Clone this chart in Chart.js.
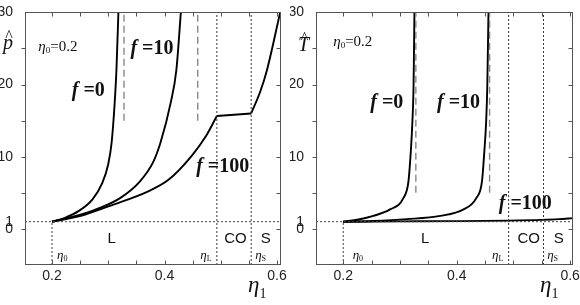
<!DOCTYPE html>
<html>
<head>
<meta charset="utf-8">
<script src="https://cdn.jsdelivr.net/npm/chart.js@4.4.0/dist/chart.umd.min.js"></script>
<style>
  html, body { margin: 0; padding: 0; background: #fff; }
  #wrap { position: relative; width: 580px; height: 305px; }
  .panel { position: absolute; top: 0; width: 290px; height: 305px; }
  #left { left: 0; }
  #right { left: 290px; }
</style>
</head>
<body>
<div id="wrap">
  <div class="panel" id="left"><canvas id="pChart" width="290" height="305"></canvas></div>
  <div class="panel" id="right"><canvas id="tChart" width="290" height="305"></canvas></div>
</div>
<script>
// axis ticks
const xTicks = [0.2, 0.25, 0.3, 0.35, 0.4, 0.45, 0.5, 0.55, 0.6];
const xLabelled = [0.2, 0.4, 0.6];
const yTicks = [-5, 0, 1, 5, 10, 15, 20, 25, 30];
const yLabelled = [0, 1, 10, 20, 30];

// left panel: reduced pressure p-hat vs eta1
const etaP0 = [0.2, 0.223, 0.247, 0.272, 0.289, 0.3, 0.306, 0.311, 0.3145, 0.318];
const pF0 = [1, 1.54, 2.46, 4.1, 6.3, 9.0, 12, 17, 22, 30];
const etaP10 = [0.2, 0.229, 0.27, 0.321, 0.356, 0.38, 0.393, 0.411, 0.421, 0.429];
const pF10 = [1, 1.54, 2.46, 4.27, 6.55, 9.28, 12, 17.5, 22, 30];
const etaP100L = [0.2, 0.22, 0.259, 0.309, 0.37, 0.407, 0.449, 0.474, 0.493];
const pF100L = [1, 1.3, 2.0, 3.37, 5.18, 6.8, 10.2, 12.9, 15.65];
const etaP100CO = [0.493, 0.554];
const pF100CO = [15.65, 16.0];
const etaP100S = [0.554, 0.57, 0.582, 0.6055];
const pF100S = [16.0, 19, 22, 30];
const pAsym = [0.328, 0.459];
const pAsymFrom = 15;
const pBounds = [0.2, 0.493, 0.554];

// right panel: reduced temperature T-hat vs eta1
const etaT0 = [0.2, 0.227, 0.253, 0.2825, 0.306, 0.3149, 0.319, 0.322, 0.324, 0.3255];
const tF0 = [1, 1.3, 1.8, 2.7, 4.27, 6.55, 10.6, 15, 20, 30];
const etaT10 = [0.2, 0.253, 0.312, 0.371, 0.412, 0.4345, 0.4445, 0.4486, 0.452, 0.454, 0.456];
const tF10 = [1, 1.1, 1.35, 1.8, 2.7, 4.27, 6.55, 10.6, 15, 20, 30];
const etaT100 = [0.2, 0.3, 0.4, 0.49, 0.55, 0.58, 0.605];
const tF100 = [1, 1.04, 1.08, 1.15, 1.25, 1.35, 1.5];
const tAsym = [0.328, 0.458];
const tAsymFrom = 5;
const tBounds = [0.2, 0.4915, 0.553];

const Y_MIN = -5, Y_MAX = 30;
const SANS = '"Liberation Sans", Arial, sans-serif';
const SERIF = '"Liberation Serif", "Times New Roman", serif';

const pts = (xs, ys) => xs.map((x, i) => ({ x, y: ys[i] }));

function curve(xs, ys) {
  return {
    data: pts(xs, ys), showLine: true, borderColor: '#000', borderWidth: 1.9,
    pointRadius: 0, fill: false, cubicInterpolationMode: 'monotone',
  };
}

function guide(data, color, dash, width) {
  return {
    data, showLine: true, borderColor: color, borderWidth: width || 1,
    borderDash: dash, pointRadius: 0, fill: false, tension: 0,
  };
}

function guides(bounds, asym, asymFrom, xMin, xMax) {
  const out = [];
  out.push(guide([{ x: xMin, y: 1 }, { x: xMax, y: 1 }], '#444', [2, 2]));
  out.push(guide([{ x: bounds[0], y: Y_MIN }, { x: bounds[0], y: 1 }], '#444', [2, 2]));
  bounds.slice(1).forEach((b) => out.push(guide([{ x: b, y: Y_MIN }, { x: b, y: Y_MAX }], '#333', [2, 2])));
  asym.forEach((a) => out.push(guide([{ x: a, y: asymFrom }, { x: a, y: Y_MAX }], '#888', [7, 4], 1.4)));
  return out;
}

const near = (list, v) => list.some((l) => Math.abs(l - v) < 1e-6);

function drawRich(ctx, x, y, parts, align) {
  let w = 0;
  parts.forEach((p) => { ctx.font = p.font; w += ctx.measureText(p.t).width + (p.gap || 0); });
  let cx = align === 'center' ? x - w / 2 : x;
  parts.forEach((p) => {
    ctx.font = p.font;
    ctx.fillText(p.t, cx, y + (p.dy || 0));
    cx += ctx.measureText(p.t).width + (p.gap || 0);
  });
}

const fLabel = (n) => [
  { t: 'f', font: `italic bold 20px ${SERIF}`, gap: 5 },
  { t: '=' + n, font: `bold 20px ${SERIF}` },
];
const etaSub = (sub, size) => [
  { t: 'η', font: `italic ${size}px ${SERIF}` },
  { t: sub, font: `${Math.round(size * 0.62)}px ${SERIF}`, dy: 2 },
];

const decor = {
  id: 'decor',
  afterDraw(chart, args, opts) {
    const { ctx, chartArea: a, scales: { x, y } } = chart;
    const L = Math.round(a.left) + 0.5, R = Math.round(a.right) - 0.5;
    const T = Math.round(a.top) + 0.5, B = Math.round(a.bottom) - 0.5;
    ctx.save();
    ctx.strokeStyle = '#555';
    ctx.lineWidth = 1;
    ctx.strokeRect(L, T, R - L, B - T);
    ctx.beginPath();
    xTicks.forEach((v) => {
      const px = Math.round(x.getPixelForValue(v)) + 0.5;
      ctx.moveTo(px, B); ctx.lineTo(px, B - 4);
      ctx.moveTo(px, T); ctx.lineTo(px, T + 4);
    });
    yTicks.filter((v) => v % 5 === 0 && v > Y_MIN && v < Y_MAX).forEach((v) => {
      const py = Math.round(y.getPixelForValue(v)) + 0.5;
      ctx.moveTo(L, py); ctx.lineTo(L - 4, py);
      ctx.moveTo(R, py); ctx.lineTo(R - 4, py);
    });
    ctx.stroke();

    ctx.fillStyle = '#111';
    ctx.textBaseline = 'alphabetic';
    opts.notes.forEach((n) => {
      drawRich(ctx, x.getPixelForValue(n.x), y.getPixelForValue(n.y), n.parts, n.align);
    });

    // y title with hat
    ctx.textAlign = 'left';
    const cx = a.left + opts.yTitleDx;
    ctx.font = `italic 20px ${SERIF}`;
    const tw = ctx.measureText(opts.yTitle).width;
    ctx.fillText(opts.yTitle, cx - tw / 2, opts.yTitleBase);
    ctx.font = `16px ${SERIF}`;
    const hw = ctx.measureText('^').width;
    ctx.fillText('^', cx - hw / 2 + 1, opts.yTitleBase - 8);

    // x title
    drawRich(ctx, a.right - 33, 292, [
      { t: 'η', font: `italic 23px ${SERIF}` },
      { t: '1', font: `14px ${SERIF}`, dy: 6 },
    ], 'left');
    ctx.restore();
  },
};

function makeChart(id, datasets, xMax, yAxisWidth, padRight, notes, yTitle, yTitleDx, yTitleBase) {
  return new Chart(document.getElementById(id), {
    type: 'scatter',
    data: { datasets },
    plugins: [decor],
    options: {
      responsive: false,
      animation: false,
      devicePixelRatio: 1,
      layout: { padding: { top: 8, right: padRight, left: 0, bottom: 0 } },
      plugins: {
        legend: { display: false },
        tooltip: { enabled: false },
        decor: { notes, yTitle, yTitleDx, yTitleBase },
      },
      scales: {
        x: {
          type: 'linear', min: 0.152, max: xMax,
          afterBuildTicks: (s) => { s.ticks = xTicks.map((v) => ({ value: v })); },
          afterFit: (s) => { s.height = 40; },
          ticks: {
            autoSkip: false, maxRotation: 0, padding: -5, color: '#222',
            font: { family: SANS, size: 14 },
            callback: (v) => (near(xLabelled, v) ? v.toFixed(1) : ''),
          },
          grid: { display: false },
          border: { display: false },
        },
        y: {
          type: 'linear', min: Y_MIN, max: Y_MAX,
          afterBuildTicks: (s) => { s.ticks = yTicks.map((v) => ({ value: v })); },
          afterFit: (s) => { s.width = yAxisWidth; },
          ticks: {
            autoSkip: false, padding: 4, color: '#222',
            font: { family: SANS, size: 14 },
            callback: (v) => (near(yLabelled, v) ? String(v) : ''),
          },
          grid: { display: false },
          border: { display: false },
        },
      },
    },
  });
}

const pNotes = [
  { x: 0.2645, y: 18.4, align: 'center', parts: fLabel('0') },
  { x: 0.3776, y: 24.3, align: 'center', parts: fLabel('10') },
  { x: 0.5034, y: 7.9, align: 'center', parts: fLabel('100') },
  { x: 0.1757, y: 24.7, align: 'left', parts: [...etaSub('0', 15), { t: '=0.2', font: `15px ${SERIF}` }] },
  { x: 0.306, y: -1.9, align: 'center', parts: [{ t: 'L', font: `15px ${SANS}` }] },
  { x: 0.526, y: -1.9, align: 'center', parts: [{ t: 'CO', font: `15px ${SANS}` }] },
  { x: 0.580, y: -1.9, align: 'center', parts: [{ t: 'S', font: `15px ${SANS}` }] },
  { x: 0.2089, y: -4.1, align: 'left', parts: etaSub('0', 13) },
  { x: 0.4634, y: -4.1, align: 'left', parts: etaSub('L', 13) },
  { x: 0.5611, y: -4.1, align: 'left', parts: etaSub('S', 13) },
];

const tNotes = [
  { x: 0.2767, y: 16.8, align: 'center', parts: fLabel('0') },
  { x: 0.4032, y: 16.8, align: 'center', parts: fLabel('10') },
  { x: 0.521, y: 2.7, align: 'center', parts: fLabel('100') },
  { x: 0.1823, y: 25.4, align: 'left', parts: [...etaSub('0', 15), { t: '=0.2', font: `15px ${SERIF}` }] },
  { x: 0.3443, y: -2.0, align: 'center', parts: [{ t: 'L', font: `15px ${SANS}` }] },
  { x: 0.5269, y: -2.0, align: 'center', parts: [{ t: 'CO', font: `15px ${SANS}` }] },
  { x: 0.5799, y: -2.0, align: 'center', parts: [{ t: 'S', font: `15px ${SANS}` }] },
  { x: 0.2166, y: -4.1, align: 'left', parts: etaSub('0', 13) },
  { x: 0.4622, y: -4.1, align: 'left', parts: etaSub('L', 13) },
  { x: 0.5594, y: -4.1, align: 'left', parts: etaSub('S', 13) },
];

makeChart('pChart', [
  ...guides(pBounds, pAsym, pAsymFrom, 0.152, 0.607),
  curve(etaP0, pF0),
  curve(etaP10, pF10),
  curve(etaP100L, pF100L),
  curve(etaP100CO, pF100CO),
  curve(etaP100S, pF100S),
], 0.607, 25, 9, pNotes, 'p', -17, 49);

makeChart('tChart', [
  ...guides(tBounds, tAsym, tAsymFrom, 0.152, 0.605),
  curve(etaT0, tF0),
  curve(etaT10, tF10),
  curve(etaT100, tF100),
], 0.605, 26, 7, tNotes, 'T', -12.5, 51);
</script>
</body>
</html>
